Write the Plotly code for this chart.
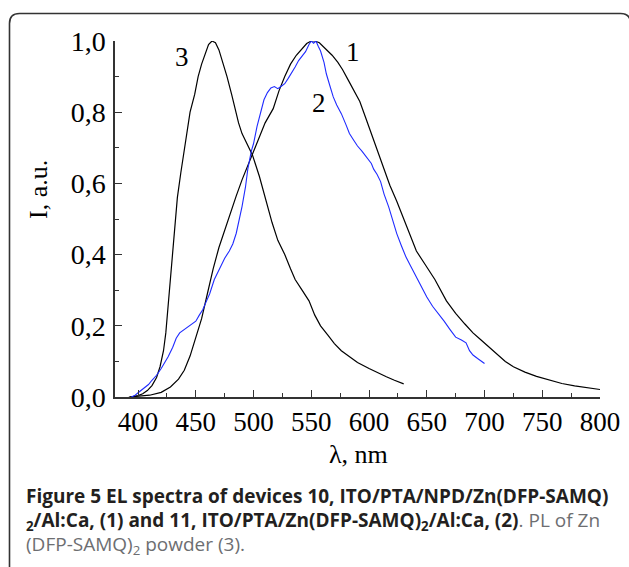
import plotly.graph_objects as go

# ---------------- data ----------------
# curve 3: PL of Zn(DFP-SAMQ)2 powder
wl3 = [393, 397, 400, 404, 408, 412, 416, 419, 422, 424, 426, 428, 430, 432, 434, 437,
       441, 445, 449, 452, 455, 458, 461, 464, 467, 470, 473, 477, 481, 484, 487, 490,
       494, 499, 505, 511, 516, 521, 527, 532, 536, 542, 548, 553, 558, 564, 570, 576,
       583, 590, 600, 608, 615, 622, 630]
i3 = [0.0, 0.002, 0.004, 0.009, 0.018, 0.032, 0.055, 0.085, 0.13, 0.18, 0.26, 0.34,
      0.42, 0.50, 0.56, 0.63, 0.72, 0.80, 0.85, 0.90, 0.935, 0.965, 0.99, 1.0, 0.995,
      0.975, 0.945, 0.90, 0.85, 0.805, 0.77, 0.74, 0.715, 0.68, 0.62, 0.55, 0.49, 0.44,
      0.40, 0.36, 0.33, 0.30, 0.27, 0.23, 0.20, 0.175, 0.15, 0.13, 0.113, 0.097, 0.08,
      0.067, 0.057, 0.047, 0.037]

# curve 1: EL of device 10
wl1 = [392, 400, 410, 420, 428, 435, 440, 445, 450, 455, 460, 465, 470, 475, 480, 485,
       490, 495, 499, 505, 510, 517, 522, 527, 532, 537, 542, 546, 550, 553, 557, 562,
       568, 573, 577, 582, 587, 592, 597, 602, 607, 612, 618, 624, 630, 636, 641, 649,
       657, 667, 675, 683, 690, 697, 704, 711, 718, 725, 735, 745, 756, 767, 778, 789,
       800]
i1 = [0.0, 0.002, 0.005, 0.013, 0.028, 0.05, 0.075, 0.115, 0.165, 0.22, 0.29, 0.36,
      0.42, 0.47, 0.52, 0.565, 0.61, 0.65, 0.68, 0.73, 0.77, 0.81, 0.86, 0.90, 0.935,
      0.96, 0.98, 0.993, 1.0, 1.0, 0.995, 0.98, 0.96, 0.94, 0.92, 0.89, 0.86, 0.83,
      0.785, 0.74, 0.69, 0.645, 0.595, 0.55, 0.50, 0.455, 0.41, 0.37, 0.33, 0.27, 0.235,
      0.205, 0.18, 0.16, 0.14, 0.12, 0.10, 0.085, 0.07, 0.058, 0.047, 0.038, 0.031,
      0.025, 0.021]

# curve 2: EL of device 11
wl2 = [394, 397, 400, 403, 406, 409, 412, 416, 420, 423, 426, 430, 433, 436, 440, 444,
       447, 450, 453, 456, 459, 462, 466, 469, 471, 475, 479, 482, 485, 488, 490, 493,
       495, 498, 500, 503, 506, 509, 512, 515, 518, 521, 524, 527, 530, 533, 536, 539,
       542, 545, 548, 550, 552, 554, 556, 558, 561, 563, 566, 569, 572, 576, 580, 583,
       587, 590, 594, 598, 602, 604, 607, 610, 613, 617, 620, 624, 628, 632, 636, 641,
       645, 650, 655, 660, 665, 670, 675, 680, 684, 687, 690, 694, 697, 700]
i2 = [0.0, 0.004, 0.012, 0.02, 0.028, 0.035, 0.047, 0.061, 0.08, 0.095, 0.113, 0.14,
      0.165, 0.18, 0.19, 0.198, 0.205, 0.213, 0.23, 0.245, 0.268, 0.29, 0.33, 0.35,
      0.365, 0.39, 0.41, 0.43, 0.46, 0.50, 0.535, 0.59, 0.64, 0.69, 0.712, 0.76, 0.80,
      0.835, 0.855, 0.868, 0.872, 0.866, 0.873, 0.88, 0.895, 0.91, 0.927, 0.945, 0.958,
      0.97, 0.99, 1.0, 0.994, 1.0, 0.985, 0.972, 0.94, 0.908, 0.875, 0.843, 0.82, 0.796,
      0.765, 0.74, 0.72, 0.705, 0.69, 0.672, 0.656, 0.64, 0.625, 0.605, 0.57, 0.534,
      0.50, 0.459, 0.425, 0.393, 0.368, 0.337, 0.31, 0.281, 0.255, 0.235, 0.213, 0.19,
      0.168, 0.16, 0.152, 0.13, 0.118, 0.108, 0.1, 0.094]

x_ticks = [400, 450, 500, 550, 600, 650, 700, 750, 800]
x_tick_labels = ["400", "450", "500", "550", "600", "650", "700", "750", "800"]
x_minor = [425, 475, 525, 575, 625, 675, 725, 775]
y_ticks = [0.0, 0.2, 0.4, 0.6, 0.8, 1.0]
y_tick_labels = ["0,0", "0,2", "0,4", "0,6", "0,8", "1,0"]
y_minor = [0.1, 0.3, 0.5, 0.7, 0.9]

curve_names = ["1", "2", "3"]
name_wl = [586, 556.5, 438]
name_i = [0.968, 0.825, 0.955]

x_title = "λ, nm"
y_title = "I, a.u."
caption_lines = [
    "<b>Figure 5 EL spectra of devices 10, ITO/PTA/NPD/Zn(DFP-SAMQ)</b>",
    "<b><sub>2</sub>/Al:Ca, (1) and 11, ITO/PTA/Zn(DFP-SAMQ)<sub>2</sub>/Al:Ca, (2)</b>"
    "<span style='color:#6d6e71'>. PL of Zn</span>",
    "<span style='color:#6d6e71'>(DFP-SAMQ)<sub>2</sub> powder (3).</span>",
]

# ---------------- layout geometry ----------------
W, H = 629, 567
L, R, T, B = 115, 29, 41, 170
PW, PH = W - L - R, H - T - B


def px(xpix):
    return (xpix - L) / PW


def py(ypix):
    return (H - B - ypix) / PH


fig = go.Figure()
fig.add_trace(go.Scatter(x=wl3, y=i3, mode="lines", line=dict(color="black", width=1.2),
                         showlegend=False, hoverinfo="skip"))
fig.add_trace(go.Scatter(x=wl1, y=i1, mode="lines", line=dict(color="black", width=1.2),
                         showlegend=False, hoverinfo="skip"))
fig.add_trace(go.Scatter(x=wl2, y=i2, mode="lines", line=dict(color="#1f2bff", width=1.1),
                         showlegend=False, hoverinfo="skip"))

serif = "Liberation Serif"
axis_col = "#333333"

fig.update_xaxes(range=[380, 800], tickmode="array", tickvals=x_ticks, ticktext=x_tick_labels,
                 ticks="inside", ticklen=7, tickwidth=1.3, tickcolor=axis_col,
                 showline=True, linecolor=axis_col, linewidth=1.5, showgrid=False,
                 zeroline=False, tickfont=dict(family=serif, size=27, color="black"),
                 ticklabelstandoff=0,
                 minor=dict(tickmode="array", tickvals=x_minor, ticks="inside", ticklen=4,
                            tickwidth=1.3, tickcolor=axis_col, showgrid=False))
fig.update_yaxes(range=[0, 1], tickmode="array", tickvals=y_ticks, ticktext=y_tick_labels,
                 ticks="inside", ticklen=7, tickwidth=1.3, tickcolor=axis_col,
                 showline=True, linecolor=axis_col, linewidth=1.5, showgrid=False,
                 zeroline=False, tickfont=dict(family=serif, size=28, color="black"),
                 ticklabelstandoff=2,
                 minor=dict(tickmode="array", tickvals=y_minor, ticks="inside", ticklen=4,
                            tickwidth=1.3, tickcolor=axis_col, showgrid=False))

annotations = []
for name, xv, yv in zip(curve_names, name_wl, name_i):
    annotations.append(dict(x=xv, y=yv, xref="x", yref="y", text=name, showarrow=False,
                            font=dict(family=serif, size=27, color="black"),
                            xanchor="center", yanchor="middle"))
annotations.append(dict(x=px(358), y=py(454), xref="paper", yref="paper", text=x_title,
                        showarrow=False, font=dict(family=serif, size=26, color="black"),
                        xanchor="center", yanchor="middle"))
annotations.append(dict(x=px(38), y=py(190), xref="paper", yref="paper", text=y_title,
                        showarrow=False, textangle=-90,
                        font=dict(family=serif, size=26, color="black"),
                        xanchor="center", yanchor="middle"))
cap_centers = [496, 521, 545]
for txt, cy in zip(caption_lines, cap_centers):
    annotations.append(dict(x=px(24), y=py(cy), xref="paper", yref="paper", text=txt,
                            showarrow=False, align="left",
                            font=dict(family="Open Sans", size=19, color="#231f20"),
                            xanchor="left", yanchor="middle"))

# rounded frame
fl, fr, ft, fb, rr = 9.5, 630.5, 13.5, 567.5, 10
path = (f"M {px(fl)},{py(fb)} L {px(fl)},{py(ft + rr)} "
        f"Q {px(fl)},{py(ft)} {px(fl + rr)},{py(ft)} "
        f"L {px(fr - rr)},{py(ft)} Q {px(fr)},{py(ft)} {px(fr)},{py(ft + rr)} "
        f"L {px(fr)},{py(fb)}")
fig.add_shape(type="path", path=path, xref="paper", yref="paper",
              line=dict(color="#333333", width=1.6))

fig.update_layout(width=W, height=H, margin=dict(l=L, r=R, t=T, b=B, autoexpand=False),
                  paper_bgcolor="white", plot_bgcolor="white",
                  annotations=annotations, showlegend=False)

fig.write_html("out.html", config={"displayModeBar": False},
               post_script="document.body.style.margin='0';document.body.style.overflow='hidden';")
